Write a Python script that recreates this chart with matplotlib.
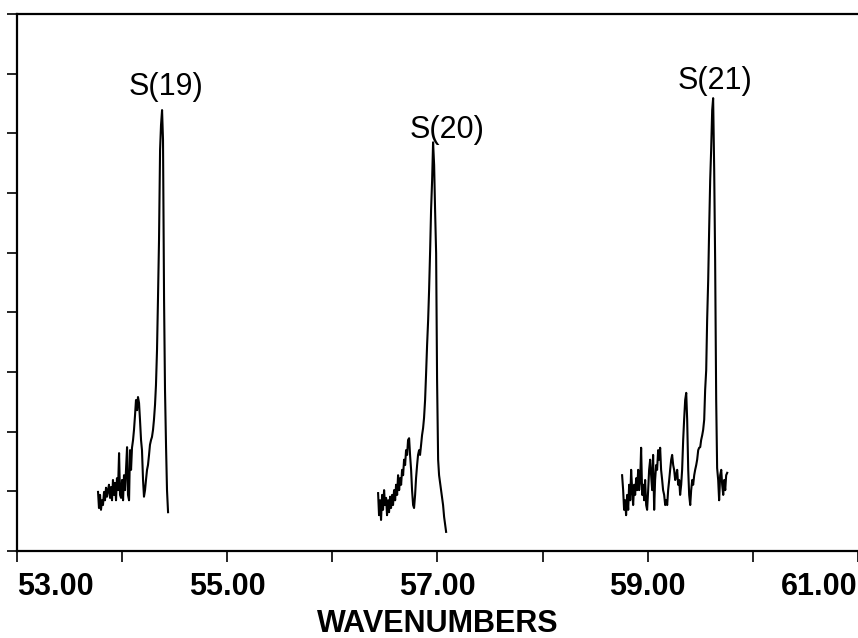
import matplotlib
matplotlib.use('Agg')
import matplotlib.pyplot as plt
import matplotlib.transforms as mtransforms
from matplotlib.ticker import MultipleLocator

# spectrum segments (wavenumber, intensity in tick units)
s19_x = [53.771, 53.780, 53.790, 53.799, 53.809, 53.818, 53.828, 53.837, 53.847, 53.856,
         53.866, 53.875, 53.885, 53.894, 53.904, 53.913, 53.923, 53.932, 53.942, 53.951,
         53.961, 53.971, 53.980, 53.990, 53.999, 54.009, 54.018, 54.028, 54.037, 54.047,
         54.056, 54.066, 54.075, 54.085, 54.094, 54.104, 54.113, 54.123, 54.132, 54.142,
         54.151, 54.161, 54.170, 54.180, 54.189, 54.199, 54.208, 54.218, 54.227, 54.237,
         54.246, 54.256, 54.265, 54.275, 54.284, 54.294, 54.303, 54.313, 54.322, 54.332,
         54.341, 54.351, 54.361, 54.370, 54.380, 54.389, 54.399, 54.408, 54.418, 54.427,
         54.437]
s19_y = [0.99, 0.72, 0.94, 0.69, 0.85, 0.77, 0.99, 0.85, 1.06, 0.91,
         1.02, 1.11, 0.89, 1.07, 0.85, 1.19, 0.94, 1.14, 0.85, 1.22,
         1.02, 1.64, 0.94, 0.89, 1.19, 0.85, 1.27, 1.02, 1.36, 1.74,
         0.94, 0.85, 1.69, 1.36, 1.73, 1.86, 2.03, 2.28, 2.53, 2.36,
         2.58, 2.48, 2.20, 1.86, 1.69, 1.19, 0.91, 1.02, 1.19, 1.36,
         1.44, 1.61, 1.78, 1.86, 1.91, 2.03, 2.20, 2.45, 2.78, 3.37,
         4.21, 5.21, 6.72, 7.14, 7.39, 6.89, 4.21, 2.70, 1.74, 1.02,
         0.65]

s20_x = [56.435, 56.444, 56.454, 56.463, 56.473, 56.482, 56.492, 56.501, 56.511, 56.520,
         56.530, 56.539, 56.549, 56.558, 56.568, 56.577, 56.587, 56.597, 56.606, 56.616,
         56.625, 56.635, 56.644, 56.654, 56.663, 56.673, 56.682, 56.692, 56.701, 56.711,
         56.720, 56.730, 56.739, 56.749, 56.758, 56.768, 56.777, 56.787, 56.796, 56.806,
         56.815, 56.825, 56.834, 56.844, 56.853, 56.863, 56.872, 56.882, 56.891, 56.901,
         56.911, 56.920, 56.930, 56.939, 56.949, 56.958, 56.968, 56.977, 56.987, 56.996,
         57.006, 57.015, 57.034, 57.053, 57.063, 57.082]
s20_y = [0.97, 0.60, 0.85, 0.52, 0.94, 0.69, 1.02, 0.77, 0.89, 0.60,
         0.85, 0.65, 0.91, 0.72, 0.94, 0.77, 1.02, 0.85, 1.11, 0.94,
         1.27, 1.02, 1.22, 1.11, 1.36, 1.27, 1.53, 1.44, 1.69, 1.61,
         1.86, 1.89, 1.61, 1.36, 1.02, 0.77, 0.72, 0.94, 1.22, 1.44,
         1.61, 1.69, 1.61, 1.78, 1.94, 2.06, 2.23, 2.53, 2.95, 3.45,
         3.87, 4.37, 5.04, 5.72, 6.22, 6.85, 6.47, 5.72, 4.99, 2.87,
         1.53, 1.27, 1.02, 0.77, 0.57, 0.32]

s21_x = [58.756, 58.766, 58.775, 58.785, 58.794, 58.804, 58.814, 58.823, 58.833, 58.842,
         58.852, 58.861, 58.871, 58.880, 58.890, 58.899, 58.909, 58.918, 58.928, 58.937,
         58.947, 58.956, 58.966, 58.975, 58.985, 58.994, 59.004, 59.013, 59.023, 59.032,
         59.042, 59.051, 59.061, 59.070, 59.080, 59.089, 59.099, 59.108, 59.118, 59.127,
         59.137, 59.146, 59.156, 59.166, 59.175, 59.185, 59.194, 59.204, 59.213, 59.223,
         59.232, 59.242, 59.251, 59.261, 59.270, 59.280, 59.289, 59.299, 59.308, 59.318,
         59.327, 59.337, 59.346, 59.356, 59.366, 59.375, 59.385, 59.394, 59.404, 59.413,
         59.423, 59.432, 59.442, 59.451, 59.461, 59.470, 59.480, 59.489, 59.499, 59.508,
         59.518, 59.527, 59.537, 59.546, 59.556, 59.565, 59.575, 59.584, 59.594, 59.603,
         59.613, 59.622, 59.632, 59.641, 59.651, 59.660, 59.670, 59.679, 59.689, 59.699,
         59.708, 59.718, 59.727, 59.737, 59.746, 59.756]
s21_y = [1.27, 1.02, 0.69, 0.85, 0.60, 0.94, 0.69, 1.11, 0.85, 1.36,
         1.02, 0.77, 1.11, 0.94, 1.22, 1.02, 1.36, 1.02, 1.19, 1.73,
         0.94, 1.11, 0.85, 1.19, 0.77, 0.69, 1.02, 1.36, 1.53, 1.27,
         1.02, 1.61, 0.69, 1.19, 1.44, 1.36, 1.69, 1.53, 1.73, 1.36,
         1.19, 1.02, 0.94, 0.77, 0.85, 0.77, 1.02, 1.19, 1.36, 1.53,
         1.61, 1.44, 1.36, 1.19, 1.27, 1.36, 1.11, 1.19, 0.94, 1.11,
         1.36, 1.86, 2.20, 2.53, 2.65, 2.20, 1.36, 0.94, 0.77, 1.02,
         1.19, 1.11, 1.27, 1.36, 1.44, 1.53, 1.69, 1.73, 1.74, 1.86,
         1.94, 2.03, 2.20, 2.70, 3.03, 3.87, 4.54, 5.38, 6.22, 6.72,
         7.39, 7.59, 6.39, 4.88, 2.53, 1.39, 1.19, 0.85, 1.27, 1.36,
         1.11, 0.94, 1.19, 1.02, 1.27, 1.31]

peak_labels = ['S(19)', 'S(20)', 'S(21)']
label_x = [54.42, 57.09, 59.64]
label_y = [7.77, 7.06, 7.88]

tick_vals = [53, 55, 57, 59, 61]
tick_text = ['53.00', '55.00', '57.00', '59.00', '61.00']

plt.rcParams['font.family'] = ['Liberation Sans', 'DejaVu Sans']

fig = plt.figure(figsize=(8.58, 6.38), dpi=100)
ax = fig.add_axes([0.0198, 0.1364, 0.9802, 0.8416])

for xs, ys in [(s19_x, s19_y), (s20_x, s20_y), (s21_x, s21_y)]:
    ax.plot(xs, ys, color='black', lw=1.5)

for lab, lx, ly in zip(peak_labels, label_x, label_y):
    ax.text(lx, ly, lab, ha='center', va='center', fontsize=22)

ax.set_xlim(53, 61)
ax.set_ylim(0, 9)
ax.spines['right'].set_visible(False)
for s in ['left', 'bottom', 'top']:
    ax.spines[s].set_linewidth(1.6)

ax.set_xticks(tick_vals)
ax.set_xticklabels(tick_text, fontsize=22, fontweight='bold')
tl = ax.get_xticklabels()
# end labels sit inside the frame, like the scan
tl[0].set_ha('left')
tl[0].set_transform(tl[0].get_transform() + mtransforms.ScaledTranslation(0.03, 0, fig.dpi_scale_trans))
tl[-1].set_ha('right')
tl[-1].set_transform(tl[-1].get_transform() + mtransforms.ScaledTranslation(-0.07, 0, fig.dpi_scale_trans))
ax.xaxis.set_minor_locator(MultipleLocator(1))
ax.tick_params(axis='x', which='both', direction='out', length=8, width=1.2, pad=7)
ax.yaxis.set_major_locator(MultipleLocator(1))
ax.tick_params(axis='y', direction='out', length=7, width=1.2, labelleft=False)
ax.set_xlabel('WAVENUMBERS', fontsize=22, fontweight='bold', labelpad=5)

fig.savefig('out.png', dpi=100)
